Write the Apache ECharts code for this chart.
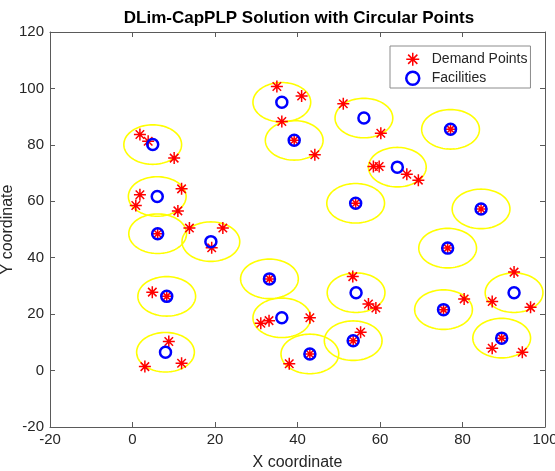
<!DOCTYPE html>
<html>
<head>
<meta charset="utf-8">
<script src="https://cdn.jsdelivr.net/npm/echarts@6/dist/echarts.min.js"></script>
<style>
html,body{margin:0;padding:0;background:#fff;}
#chart{width:555px;height:471px;}
</style>
</head>
<body>
<div id="chart"></div>
<script>
// Facility locations
var facilityX = [4.9, 6.0, 6.1, 19.0, 8.3, 8.0, 36.2, 39.2, 33.2, 36.2, 43.0, 56.1, 54.1, 54.2, 53.5, 64.2, 77.1, 76.4, 75.4, 84.5, 92.5, 89.5];
var facilityY = [80.1, 61.7, 48.5, 45.7, 26.3, 6.5, 95.1, 81.6, 32.5, 18.7, 5.9, 89.5, 59.3, 27.6, 10.6, 72.1, 85.5, 43.4, 21.6, 57.3, 27.6, 11.5];
// Demand point locations
var demandX = [1.8, 3.8, 10.1, 1.8, 0.8, 11.9, 11.0, 6.1, 13.8, 21.9, 19.2, 4.8, 8.3, 8.8, 3.0, 11.9,
               35.0, 41.0, 36.2, 39.2, 44.2, 33.2, 31.1, 33.1, 43.0, 43.0, 38.0,
               51.1, 60.2, 54.1, 53.4, 57.2, 59.0, 53.5, 55.3, 58.4, 59.8, 66.5, 69.3,
               77.1, 76.4, 75.4, 80.4, 84.5, 92.5, 87.2, 96.5, 89.5, 87.2, 94.5];
var demandY = [83.7, 81.3, 75.3, 62.3, 58.5, 64.4, 56.6, 48.5, 50.5, 50.5, 43.5, 27.8, 26.3, 10.3, 1.4, 2.6,
               100.7, 97.3, 88.3, 81.6, 76.5, 32.5, 16.8, 17.7, 18.7, 5.9, 2.4,
               94.6, 84.1, 59.3, 33.3, 23.6, 22.2, 10.6, 13.6, 72.3, 72.3, 69.6, 67.5,
               85.5, 43.4, 21.6, 25.4, 57.3, 34.9, 24.5, 22.4, 11.5, 7.9, 6.5];
var coverRadius = 7;
var xTicks = [-20, 0, 20, 40, 60, 80, 100];
var yTicks = [-20, 0, 20, 40, 60, 80, 100, 120];

var facilities = facilityX.map(function (x, i) { return [x, facilityY[i]]; });
var demands = demandX.map(function (x, i) { return [x, demandY[i]]; });

var asterisk = 'path://M0,-1L0,1M-1,0L1,0M-0.7071,-0.7071L0.7071,0.7071M-0.7071,0.7071L0.7071,-0.7071';
var axisColor = '#5a5a5a';
var textColor = '#262626';
var font = 'Liberation Sans';

var chart = echarts.init(document.getElementById('chart'), null, {renderer: 'canvas'});
var option = {
  animation: false,
  backgroundColor: '#fff',
  title: {
    text: 'DLim-CapPLP Solution with Circular Points',
    left: 294, top: 5, textAlign: 'center',
    textStyle: {fontFamily: font, fontSize: 17, fontWeight: 'bold', color: '#000'}
  },
  grid: {left: 50, right: 10, top: 32, bottom: 44, outerBoundsMode: 'none', containLabel: false},
  legend: {
    orient: 'vertical', left: 390, top: 46,
    padding: [6, 3, 2, 15], itemGap: 4,
    itemWidth: 28, itemHeight: 13,
    borderColor: '#8c8c8c', borderWidth: 1, backgroundColor: '#fff',
    textStyle: {fontFamily: font, fontSize: 14, color: textColor},
    data: [
      {name: 'Demand Points', icon: asterisk, itemStyle: {color: 'transparent', borderColor: '#ff0000', borderWidth: 1.5}},
      {name: 'Facilities', icon: 'circle', itemStyle: {color: 'transparent', borderColor: '#0000ff', borderWidth: 2.5}}
    ]
  },
  xAxis: [{
    type: 'value', min: xTicks[0], max: xTicks[xTicks.length - 1], interval: 20,
    name: 'X coordinate', nameLocation: 'middle', nameGap: 28, nameMoveOverlap: false,
    nameTextStyle: {fontFamily: font, fontSize: 16, color: textColor},
    axisLine: {show: true, onZero: false, lineStyle: {color: axisColor, width: 1}},
    axisTick: {show: true, inside: true, length: 5, lineStyle: {color: axisColor}},
    axisLabel: {fontFamily: font, fontSize: 15, color: textColor, margin: 5},
    splitLine: {show: false}
  }, {
    type: 'value', position: 'top', min: xTicks[0], max: xTicks[xTicks.length - 1], interval: 20,
    axisLine: {show: true, onZero: false, lineStyle: {color: axisColor, width: 1}},
    axisTick: {show: true, inside: true, length: 5, lineStyle: {color: axisColor}},
    axisLabel: {show: false}, splitLine: {show: false}
  }],
  yAxis: [{
    type: 'value', min: yTicks[0], max: yTicks[yTicks.length - 1], interval: 20,
    name: 'Y coordinate', nameLocation: 'middle', nameGap: 34, nameRotate: 90, nameMoveOverlap: false,
    nameTextStyle: {fontFamily: font, fontSize: 16, color: textColor},
    axisLine: {show: true, onZero: false, lineStyle: {color: axisColor, width: 1}},
    axisTick: {show: true, inside: true, length: 5, lineStyle: {color: axisColor}},
    axisLabel: {fontFamily: font, fontSize: 15, color: textColor, margin: 6},
    splitLine: {show: false}
  }, {
    type: 'value', position: 'right', min: yTicks[0], max: yTicks[yTicks.length - 1], interval: 20,
    axisLine: {show: true, onZero: false, lineStyle: {color: axisColor, width: 1}},
    axisTick: {show: true, inside: true, length: 5, lineStyle: {color: axisColor}},
    axisLabel: {show: false}, splitLine: {show: false}
  }],
  series: [{
    name: 'Coverage',
    type: 'custom',
    xAxisIndex: 0, yAxisIndex: 0,
    z: 1,
    data: facilities,
    renderItem: function (params, api) {
      var cx = api.value(0), cy = api.value(1);
      var pts = [];
      for (var k = 0; k < 96; k++) {
        var a = k / 96 * 2 * Math.PI;
        pts.push(api.coord([cx + coverRadius * Math.cos(a), cy + coverRadius * Math.sin(a)]));
      }
      return {type: 'polygon', shape: {points: pts}, style: {fill: 'none', stroke: '#ffff00', lineWidth: 1.6}};
    },
    silent: true
  }, {
    name: 'Demand Points',
    type: 'scatter',
    z: 3,
    data: demands,
    symbol: asterisk,
    symbolSize: 12,
    itemStyle: {color: 'transparent', borderColor: '#ff0000', borderWidth: 1.5, opacity: 1}
  }, {
    name: 'Facilities',
    type: 'scatter',
    z: 4,
    data: facilities,
    symbol: 'circle',
    symbolSize: 11,
    itemStyle: {color: 'transparent', borderColor: '#0000ff', borderWidth: 2.5, opacity: 1}
  }]
};
chart.setOption(option);
</script>
</body>
</html>
